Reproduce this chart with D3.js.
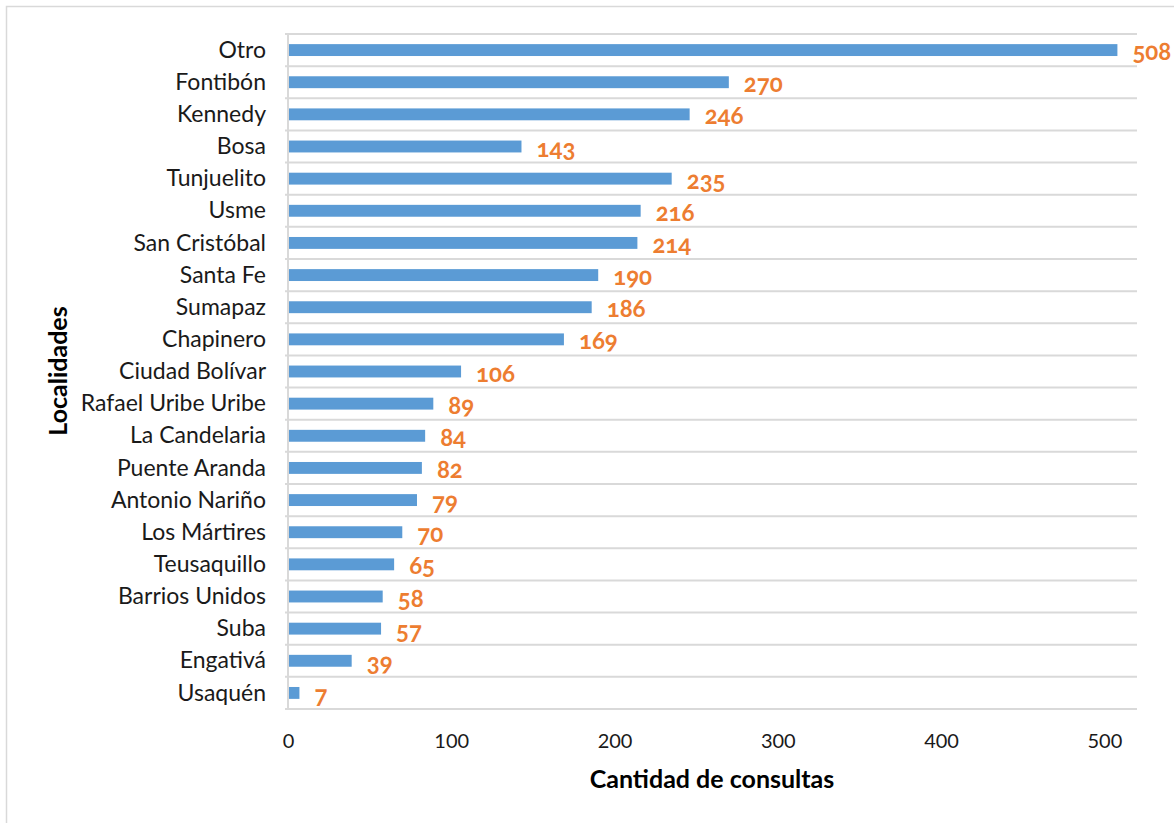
<!DOCTYPE html>
<html><head><meta charset="utf-8">
<script src="https://cdn.jsdelivr.net/npm/d3@7"></script>
<style>
html,body{margin:0;padding:0;background:#fff;}
svg{display:block;}
</style></head>
<body>
<svg id="chart" width="1174" height="823"></svg>
<script>
const categories = ["Otro","Fontibón","Kennedy","Bosa","Tunjuelito","Usme","San Cristóbal","Santa Fe","Sumapaz","Chapinero","Ciudad Bolívar","Rafael Uribe Uribe","La Candelaria","Puente Aranda","Antonio Nariño","Los Mártires","Teusaquillo","Barrios Unidos","Suba","Engativá","Usaquén"];
const values = [508,270,246,143,235,216,214,190,186,169,106,89,84,82,79,70,65,58,57,39,7];
const xTicks = [0,100,200,300,400,500];
const xTitle = "Cantidad de consultas";
const yTitle = "Localidades";

const svg = d3.select("#chart");
const pLeft = 288, pRight = 1137, pTop = 34, pBottom = 709;
const font = "Lato, 'Open Sans', sans-serif";

svg.append("rect").attr("x",6.5).attr("y",6.5).attr("width",1200).attr("height",1200)
  .attr("fill","#fff").attr("stroke","#d9d9d9").attr("stroke-width",1.5);

const x = d3.scaleLinear().domain([0,520]).range([pLeft,pRight]);
const y = d3.scaleBand().domain(categories).range([pTop,pBottom]).paddingInner(0.63).paddingOuter(0.315);
const step = y.step();

// horizontal gridlines at category boundaries
svg.append("g").selectAll("line").data(d3.range(categories.length+1)).join("line")
  .attr("x1",pLeft-3).attr("x2",pRight)
  .attr("y1",i=>pTop+i*step).attr("y2",i=>pTop+i*step)
  .attr("stroke","#d9d9d9").attr("stroke-width",2);

// left axis line
svg.append("line").attr("x1",pLeft).attr("x2",pLeft).attr("y1",pTop).attr("y2",pBottom)
  .attr("stroke","#d9d9d9").attr("stroke-width",2);

// bars
svg.append("g").selectAll("rect").data(categories).join("rect")
  .attr("x",x(0)+1).attr("y",d=>y(d))
  .attr("width",(d,i)=>x(values[i])-x(0)-1).attr("height",y.bandwidth())
  .attr("fill","#5b9bd5");

// value labels
svg.append("g").selectAll("text").data(categories).join("text")
  .attr("x",(d,i)=>x(values[i])+15).attr("y",d=>y(d)+y.bandwidth()/2+10)
  .attr("font-family",font).attr("font-weight","bold").attr("font-size",24)
  .style("font-variant-numeric","oldstyle-nums")
  .attr("fill","#ed7d31").text((d,i)=>values[i]);

// y axis category labels
const yAxis = d3.axisLeft(y).tickSize(0).tickPadding(22);
const gy = svg.append("g").attr("transform",`translate(${pLeft},0)`).call(yAxis);
gy.select(".domain").remove();
gy.selectAll("text").attr("font-family",font).attr("font-size",23).attr("fill","#1a1a1a").attr("dy","0.33em");

// x axis
const xAxis = d3.axisBottom(x).tickValues(xTicks).tickSize(0).tickPadding(0);
const gx = svg.append("g").attr("transform",`translate(0,${pBottom})`).call(xAxis);
gx.select(".domain").remove();
gx.selectAll("text").attr("font-family",font).attr("font-size",20).attr("fill","#1a1a1a").attr("dy",null).attr("y",39);

// axis titles
svg.append("text").attr("x",712).attr("y",788).attr("text-anchor","middle")
  .attr("font-family",font).attr("font-weight","bold").attr("font-size",25).attr("fill","#000").text(xTitle);
svg.append("text").attr("transform","translate(67,371) rotate(-90)").attr("text-anchor","middle")
  .attr("font-family",font).attr("font-weight","bold").attr("font-size",25).attr("fill","#000").text(yTitle);
</script>
</body></html>
